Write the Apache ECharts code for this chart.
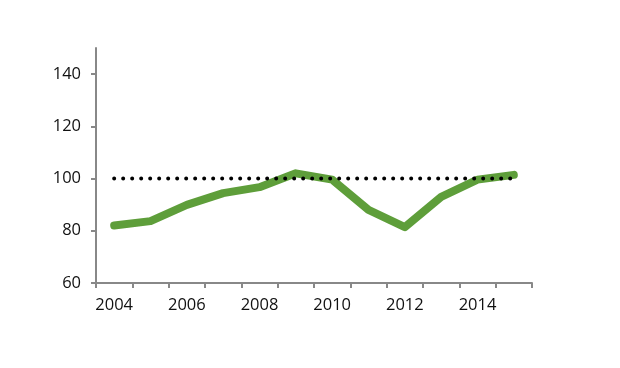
<!DOCTYPE html>
<html>
<head>
<meta charset="utf-8">
<script src="https://cdn.jsdelivr.net/npm/echarts@6/dist/echarts.min.js"></script>
<style>html,body{margin:0;padding:0;background:#fff;}#c{width:620px;height:368px;}</style>
</head>
<body>
<div id="c"></div>
<script>
const years = ['2004','2005','2006','2007','2008','2009','2010','2011','2012','2013','2014','2015'];
const indexValues = [82, 83.7, 89.9, 94.4, 96.7, 102, 99.6, 88, 81.4, 93, 99.6, 101.4];
const baseline = [100,100,100,100,100,100,100,100,100,100,100,100];
const yTicks = {min: 60, max: 150, interval: 20};

const chart = echarts.init(document.getElementById('c'), null, {renderer: 'canvas'});
chart.setOption({
  animation: false,
  backgroundColor: '#fff',
  grid: {left: 96, right: 88, top: 48, bottom: 85, containLabel: false},
  xAxis: {
    type: 'category',
    data: years,
    boundaryGap: true,
    axisLine: {lineStyle: {color: '#888', width: 2}},
    axisTick: {show: true, alignWithLabel: false, interval: 0, length: 5, lineStyle: {color: '#888', width: 2}},
    axisLabel: {interval: 1, color: '#111', fontSize: 16.5, fontFamily: 'Open Sans', margin: 14}
  },
  yAxis: {
    type: 'value',
    min: yTicks.min, max: yTicks.max, interval: yTicks.interval,
    splitLine: {show: false},
    axisLine: {show: true, lineStyle: {color: '#888', width: 2}},
    axisTick: {show: true, length: 5, lineStyle: {color: '#888', width: 2}},
    axisLabel: {showMaxLabel: false, color: '#111', fontSize: 16.5, fontFamily: 'Open Sans', margin: 15}
  },
  series: [
    {
      type: 'line', data: indexValues, symbol: 'none', z: 2,
      lineStyle: {color: '#5e9e3a', width: 8, cap: 'round', join: 'round'}
    },
    {
      type: 'line', data: baseline, symbol: 'none', z: 3,
      lineStyle: {color: '#000', width: 4, type: [0, 9], cap: 'round'}
    }
  ]
});
</script>
</body>
</html>
